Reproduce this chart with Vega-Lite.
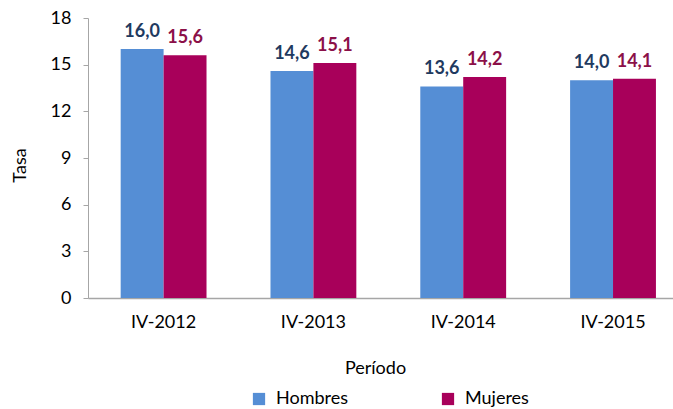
{
  "$schema": "https://vega.github.io/schema/vega-lite/v6.json",
  "autosize": {"type": "none"},
  "width": 585,
  "height": 280,
  "padding": {"left": 88, "top": 18, "right": 0, "bottom": 111},
  "background": "white",
  "config": {
    "locale": {"number": {"decimal": ",", "thousands": ".", "grouping": [3], "currency": ["", " €"]}},
    "font": "Lato",
    "view": {"stroke": null}
  },
  "data": {
    "values": [
      {"periodo": "IV-2012", "sexo": "Hombres", "tasa": 16.0},
      {"periodo": "IV-2012", "sexo": "Mujeres", "tasa": 15.6},
      {"periodo": "IV-2013", "sexo": "Hombres", "tasa": 14.6},
      {"periodo": "IV-2013", "sexo": "Mujeres", "tasa": 15.1},
      {"periodo": "IV-2014", "sexo": "Hombres", "tasa": 13.6},
      {"periodo": "IV-2014", "sexo": "Mujeres", "tasa": 14.2},
      {"periodo": "IV-2015", "sexo": "Hombres", "tasa": 14.0},
      {"periodo": "IV-2015", "sexo": "Mujeres", "tasa": 14.1}
    ]
  },
  "encoding": {
    "x": {
      "field": "periodo", "type": "nominal",
      "scale": {"paddingInner": 0.427, "paddingOuter": 0.166, "align": 0.657},
      "axis": {
        "title": "Período", "labelAngle": 0, "ticks": false, "labelPadding": 15,
        "labelFontSize": 18, "labelColor": "#000000", "labelFont": "Lato",
        "titleFontSize": 18, "titleFontWeight": "normal", "titleColor": "#000000", "titleFont": "Lato",
        "titleX": 287, "titleY": 70, "titleBaseline": "middle", "titleAnchor": "middle",
        "domainColor": "#A6A6A6", "domainWidth": 1.5, "grid": false
      }
    },
    "xOffset": {"field": "sexo", "type": "nominal", "scale": {"paddingInner": 0, "paddingOuter": 0}},
    "y": {
      "field": "tasa", "type": "quantitative",
      "scale": {"domain": [0, 18], "nice": false},
      "axis": {
        "title": "Tasa", "values": [0, 3, 6, 9, 12, 15, 18], "grid": false,
        "tickSize": 5, "tickColor": "#A6A6A6", "domainColor": "#A6A6A6", "labelPadding": 12,
        "labelFontSize": 18, "labelColor": "#000000", "labelFont": "Lato",
        "titleFontSize": 18, "titleFontWeight": "normal", "titleColor": "#000000", "titleFont": "Lato",
        "titleX": -68, "titleY": 147, "titleAngle": -90, "titleBaseline": "middle", "titleAnchor": "middle"
      }
    }
  },
  "layer": [
    {
      "mark": {"type": "bar"},
      "encoding": {
        "color": {
          "field": "sexo", "type": "nominal",
          "scale": {"domain": ["Hombres", "Mujeres"], "range": ["#558ED5", "#A8005A"]},
          "legend": {
            "title": null, "orient": "none", "direction": "horizontal",
            "legendX": 162, "legendY": 372, "symbolType": "square", "symbolSize": 150,
            "symbolStrokeWidth": 0, "labelFontSize": 18, "labelFont": "Lato", "labelColor": "#000000",
            "columnPadding": 90, "labelOffset": 8
          }
        }
      }
    },
    {
      "mark": {"type": "text", "baseline": "bottom", "dy": -8, "fontWeight": "bold", "fontSize": 18, "font": "Lato"},
      "encoding": {
        "text": {"field": "tasa", "type": "quantitative", "format": ".1f"},
        "fill": {
          "field": "sexo", "type": "nominal",
          "scale": {"domain": ["Hombres", "Mujeres"], "range": ["#1F3A60", "#8B1048"]},
          "legend": null
        }
      }
    }
  ]
}
